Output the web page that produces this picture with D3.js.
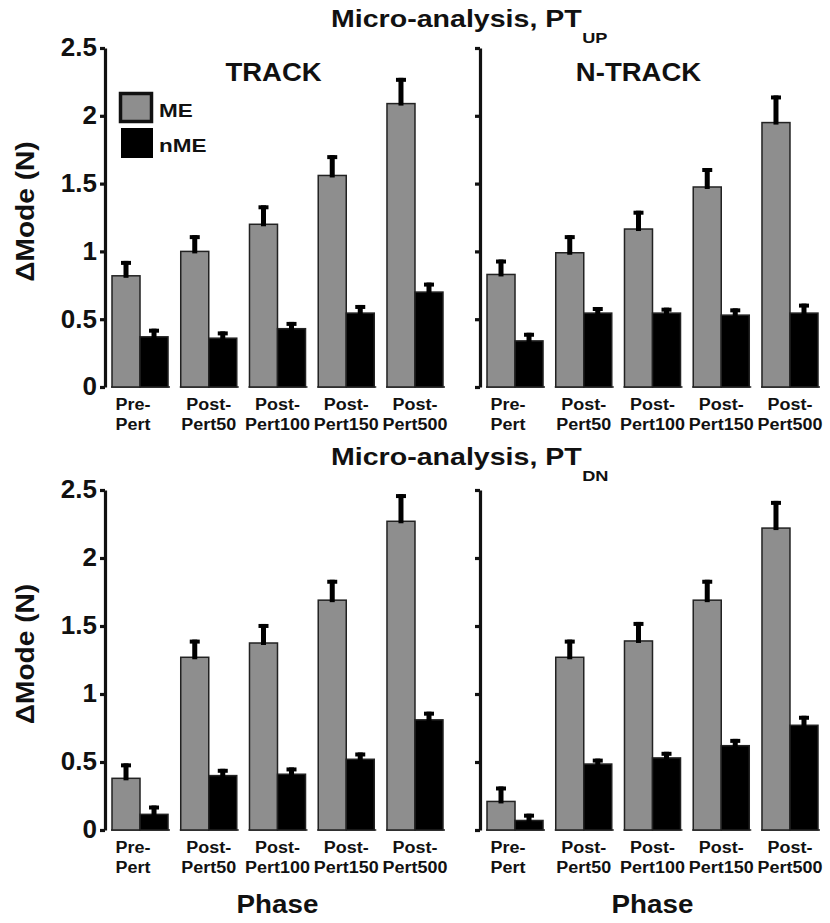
<!DOCTYPE html>
<html>
<head>
<meta charset="utf-8">
<script src="https://cdn.jsdelivr.net/npm/d3@7"></script>
<style>
body { margin: 0; background: #fff; }
text { font-family: "Liberation Sans", Arial, sans-serif; font-weight: bold; fill: #111; }
</style>
</head>
<body>
<svg id="chart" width="830" height="923"></svg>
<script>
var phases = ["Pre-Pert", "Post-Pert50", "Post-Pert100", "Post-Pert150", "Post-Pert500"];
var phaseLine1 = ["Pre-", "Post-", "Post-", "Post-", "Post-"];
var phaseLine2 = ["Pert", "Pert50", "Pert100", "Pert150", "Pert500"];
var groups = ["ME", "nME"];
var yTicks = [0, 0.5, 1, 1.5, 2, 2.5];
var tickLabels = ["0", "0.5", "1", "1.5", "2", "2.5"];

// PT_UP, TRACK
var upTrackME = [0.82, 1.00, 1.20, 1.56, 2.09];
var upTrackMEErr = [0.11, 0.12, 0.14, 0.15, 0.19];
var upTrackNME = [0.37, 0.36, 0.43, 0.545, 0.70];
var upTrackNMEErr = [0.06, 0.05, 0.05, 0.06, 0.07];
// PT_UP, N-TRACK
var upNTrackME = [0.83, 0.99, 1.165, 1.475, 1.95];
var upNTrackMEErr = [0.11, 0.13, 0.135, 0.14, 0.20];
var upNTrackNME = [0.34, 0.545, 0.545, 0.53, 0.545];
var upNTrackNMEErr = [0.06, 0.045, 0.04, 0.05, 0.07];
// PT_DN, TRACK
var dnTrackME = [0.38, 1.27, 1.375, 1.69, 2.27];
var dnTrackMEErr = [0.11, 0.13, 0.14, 0.15, 0.20];
var dnTrackNME = [0.115, 0.40, 0.41, 0.52, 0.81];
var dnTrackNMEErr = [0.065, 0.05, 0.05, 0.05, 0.06];
// PT_DN, N-TRACK
var dnNTrackME = [0.21, 1.27, 1.39, 1.69, 2.22];
var dnNTrackMEErr = [0.11, 0.13, 0.14, 0.15, 0.20];
var dnNTrackNME = [0.07, 0.485, 0.53, 0.62, 0.77];
var dnNTrackNMEErr = [0.05, 0.04, 0.045, 0.05, 0.07];

var colors = {"ME": "#8e8e8e", "nME": "#000"};

var svg = d3.select("#chart");

function stretch(sel, k){
  sel.each(function(){
    var w = this.getComputedTextLength();
    d3.select(this).attr("textLength", w*k).attr("lengthAdjust", "spacingAndGlyphs");
  });
}

var panels = [
  {me: upTrackME, meErr: upTrackMEErr, nme: upTrackNME, nmeErr: upTrackNMEErr,
   axisX: 105, y0: 387, y1: 48, labels: true, legend: true, head: "TRACK", headDx: -4, phase: false},
  {me: upNTrackME, meErr: upNTrackMEErr, nme: upNTrackNME, nmeErr: upNTrackNMEErr,
   axisX: 480, y0: 387, y1: 48, labels: false, legend: false, head: "N-TRACK", headDx: -14, phase: false},
  {me: dnTrackME, meErr: dnTrackMEErr, nme: dnTrackNME, nmeErr: dnTrackNMEErr,
   axisX: 105, y0: 830, y1: 490, labels: true, legend: false, head: null, phase: true},
  {me: dnNTrackME, meErr: dnNTrackMEErr, nme: dnNTrackNME, nmeErr: dnNTrackNMEErr,
   axisX: 480, y0: 830, y1: 490, labels: false, legend: false, head: null, phase: true}
];

// titles
var titles = [{y: 27, sub: "UP"}, {y: 465, sub: "DN"}];
titles.forEach(function(t){
  var main = svg.append("text")
    .attr("x", 331).attr("y", t.y)
    .style("font-size", "24px")
    .text("Micro-analysis, PT");
  stretch(main, 1.19);
  var end = 331 + main.node().getBBox().width;
  var sub = svg.append("text")
    .attr("x", end).attr("y", t.y + 16)
    .style("font-size", "14px")
    .text(t.sub);
  stretch(sub, 1.3);
});

panels.forEach(function(p, pi){
  var g = svg.append("g");

  var y = d3.scaleLinear().domain([0, 2.5]).range([p.y0, p.y1]);

  var x = d3.scaleBand()
    .domain(phases)
    .range([p.axisX + 7, p.axisX + 338])
    .paddingInner(0.185)
    .paddingOuter(0);

  var xSub = d3.scaleBand().domain(groups).range([0, x.bandwidth()]);

  // axis
  var axis = d3.axisLeft(y)
    .tickValues(yTicks)
    .tickSize(5)
    .tickSizeOuter(0)
    .tickPadding(3)
    .tickFormat(function(d, i){ return p.labels ? tickLabels[i] : ""; });

  var ga = g.append("g")
    .attr("transform", "translate(" + p.axisX + ",0)")
    .call(axis);
  ga.select(".domain").attr("stroke", "#111").attr("stroke-width", 3.2);
  ga.selectAll(".tick line").attr("stroke", "#111").attr("stroke-width", 3.2);
  ga.selectAll(".tick text")
    .attr("fill", "#111")
    .style("font-size", "26px")
    .style("font-family", "\"Liberation Sans\", Arial, sans-serif")
    .style("font-weight", "bold")
    .attr("dy", "0.3em");

  var rows = phases.map(function(ph, i){
    return {phase: ph, i: i, vals: [
      {key: "ME", v: p.me[i], e: p.meErr[i]},
      {key: "nME", v: p.nme[i], e: p.nmeErr[i]}
    ]};
  });

  var grp = g.selectAll(".grp").data(rows).enter().append("g")
    .attr("class", "grp")
    .attr("transform", function(d){ return "translate(" + x(d.phase) + ",0)"; });

  // baseline under each pair
  grp.append("line")
    .attr("x1", -1).attr("x2", x.bandwidth() + 2)
    .attr("y1", y(0)).attr("y2", y(0))
    .attr("stroke", "#222").attr("stroke-width", 1.5);

  var bar = grp.selectAll(".bar").data(function(d){ return d.vals; }).enter().append("g");

  bar.append("rect")
    .attr("x", function(d){ return xSub(d.key); })
    .attr("width", xSub.bandwidth())
    .attr("y", function(d){ return y(d.v); })
    .attr("height", function(d){ return y(0) - y(d.v); })
    .attr("fill", function(d){ return colors[d.key]; })
    .attr("stroke", "#222")
    .attr("stroke-width", 1.5);

  // error bars (upper only)
  bar.append("rect")
    .attr("x", function(d){ return xSub(d.key) + xSub.bandwidth()/2 - 2.5; })
    .attr("width", 5)
    .attr("y", function(d){ return y(d.v + d.e); })
    .attr("height", function(d){ return y(d.v) - y(d.v + d.e) + 2; })
    .attr("fill", "#000");
  bar.append("rect")
    .attr("x", function(d){ return xSub(d.key) + xSub.bandwidth()/2 - 5; })
    .attr("width", 10)
    .attr("y", function(d){ return y(d.v + d.e); })
    .attr("height", 4)
    .attr("fill", "#000");

  // category labels
  var lab = g.selectAll(".lab").data(rows).enter().append("text")
    .attr("class", "lab")
    .attr("text-anchor", "middle")
    .style("font-size", "16px");
  lab.append("tspan")
    .attr("x", function(d){ return x(d.phase) + x.bandwidth()/2 + (d.i === 0 ? -7 : 0); })
    .attr("y", p.y0 + 23)
    .text(function(d){ return phaseLine1[d.i]; });
  lab.append("tspan")
    .attr("x", function(d){ return x(d.phase) + x.bandwidth()/2 + (d.i === 0 ? -7 : 0); })
    .attr("y", p.y0 + 43)
    .text(function(d){ return phaseLine2[d.i]; });
  lab.selectAll("tspan").each(function(){
    var w = this.getComputedTextLength();
    d3.select(this).attr("textLength", w*1.12).attr("lengthAdjust", "spacingAndGlyphs");
  });

  var mid = (x.range()[0] + x.range()[1]) / 2;

  if(p.head){
    var h = g.append("text")
      .attr("x", mid + p.headDx).attr("y", p.y1 + 33)
      .attr("text-anchor", "middle")
      .style("font-size", "25px")
      .text(p.head);
    stretch(h, 1.1);
  }

  if(p.labels){
    var yl = g.append("text")
      .attr("transform", "translate(" + (p.axisX - 71) + "," + ((p.y0 + p.y1)/2 - 6) + ") rotate(-90)")
      .attr("text-anchor", "middle")
      .style("font-size", "26px")
      .text("\u0394Mode (N)");
    stretch(yl, 1.08);
  }

  if(p.phase){
    var ph = g.append("text")
      .attr("x", mid).attr("y", 913)
      .attr("text-anchor", "middle")
      .style("font-size", "25px")
      .text("Phase");
    stretch(ph, 1.11);
  }

  if(p.legend){
    var lg = g.append("g").attr("transform", "translate(" + (p.axisX + 14) + "," + (p.y1 + 44) + ")");
    var items = lg.selectAll("g").data(groups).enter().append("g")
      .attr("transform", function(d, i){ return "translate(0," + (i*35) + ")"; });
    items.append("rect")
      .attr("x", function(d, i){ return i === 0 ? 1.5 : 2; })
      .attr("y", function(d, i){ return i === 0 ? 1.5 : 1; })
      .attr("width", function(d, i){ return i === 0 ? 31 : 32; })
      .attr("height", function(d, i){ return i === 0 ? 28 : 30; })
      .attr("fill", function(d){ return colors[d]; })
      .attr("stroke", "#111")
      .attr("stroke-width", function(d, i){ return i === 0 ? 3.5 : 0; });
    var lt = items.append("text")
      .attr("x", 40).attr("y", 25)
      .style("font-size", "18px")
      .text(function(d){ return d; });
    stretch(lt, 1.25);
  }
});
</script>
</body>
</html>
